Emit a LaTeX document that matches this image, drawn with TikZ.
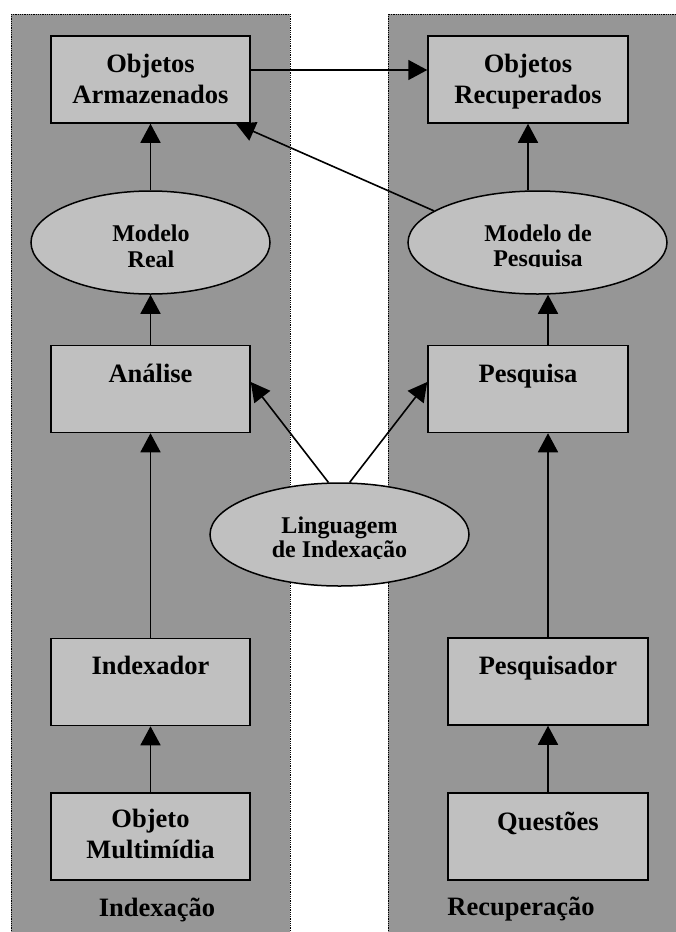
\documentclass[tikz,border=0pt]{standalone}
\usepackage{fontspec}
\setmainfont{Liberation Serif}
\usetikzlibrary{arrows.meta,shapes.geometric}
\definecolor{panelgray}{RGB}{150,150,150}
\definecolor{boxgray}{RGB}{192,192,192}
\tikzset{
  panel/.style={fill=panelgray, draw=black, line width=0.9pt, dash pattern=on 0.9pt off 0.9pt},
  stagebox/.style={draw=black, fill=boxgray, line width=1.5pt, rectangle,
    minimum width=199pt, minimum height=87pt, inner sep=0pt},
  modelshape/.style={draw=black, fill=boxgray, line width=1.5pt, ellipse,
    minimum height=103pt, inner sep=0pt},
  boxtext/.style={anchor=base, inner sep=0pt, font=\fontsize{26.5}{31}\selectfont\bfseries},
  elltext/.style={anchor=base, inner sep=0pt, font=\fontsize{24}{25}\selectfont\bfseries},
  flow/.style={line width=1.6pt, -{Triangle[width=20pt,length=19pt]}},
}
\begin{document}
\begin{tikzpicture}[x=1pt,y=-1pt]
\useasboundingbox (0,0) rectangle (675,932);
\fill[white] (0,0) rectangle (675,932);

% the two columns
\draw[panel] (11,14) rectangle (290,945);
\draw[panel] (388,14) rectangle (690,945);

% stages of indexing
\node[stagebox] (arm) at (150.5,79.5) {};
\node[stagebox] (ana) at (150.5,389) {};
\node[stagebox] (idx) at (150.5,682) {};
\node[stagebox] (obj) at (150.5,836.5) {};
% stages of retrieval
\node[stagebox, minimum width=200pt] (rec) at (528,79.5) {};
\node[stagebox, minimum width=200pt] (pes) at (528,389) {};
\node[stagebox, minimum width=200pt] (psq) at (548,681.5) {};
\node[stagebox, minimum width=200pt] (que) at (548,836.5) {};

% models
\node[modelshape, minimum width=239pt] (mr) at (150.5,242.5) {};
\node[modelshape, minimum width=259pt] (mp) at (537.5,242.5) {};
\node[modelshape, minimum width=259pt] (lin) at (339.5,534.5) {};

% box labels
\node[boxtext] at (150.5,72) {Objetos};
\node[boxtext] at (150.5,103) {Armazenados};
\node[boxtext] at (528,72) {Objetos};
\node[boxtext] at (528,103) {Recuperados};
\node[boxtext] at (150.5,382) {Análise};
\node[boxtext] at (528,382) {Pesquisa};
\node[boxtext] at (150.5,674) {Indexador};
\node[boxtext] at (548,674) {Pesquisador};
\node[boxtext] at (150.5,827) {Objeto};
\node[boxtext] at (150.5,858) {Multimídia};
\node[boxtext] at (548,830) {Questões};

% ellipse labels (second line cut at the text frame)
\node[elltext] at (151,241) {Modelo};
\node[elltext] at (151,267) {Real};
\node[elltext] at (538,241) {Modelo de};
\begin{scope}
  \clip (440,245) rectangle (640,266.5);
  \node[elltext] at (538,266) {Pesquisa};
\end{scope}
\node[elltext] at (339.5,533) {Linguagem};
\begin{scope}
  \clip (240,537) rectangle (440,558);
  \node[elltext] at (339.5,557.5) {de Indexação};
\end{scope}

% column titles
\node[boxtext] at (157,916) {Indexação};
\node[boxtext] at (521,915) {Recuperação};

% connectors
\draw[flow] ([yshift=9.5pt]arm.east) -- ([yshift=9.5pt]rec.west);
\draw[flow] (mr.north) -- (arm.south);
\draw[flow] (ana.north) -- (mr.south);
\draw[flow] (idx.north) -- (ana.south);
\draw[flow] (obj.north) -- (idx.south);
\draw[flow] (rec.south |- mp.north) -- (rec.south);
\draw[flow] (mp.163) -- ([xshift=85.5pt]arm.south);
\draw[flow] ([xshift=20pt]pes.north) -- ([xshift=20pt]pes.north |- mp.south);
\draw[flow] (psq.north) -- (psq.north |- pes.south);
\draw[flow] (que.north) -- (psq.south);
\draw[flow] (lin.102) -- ([yshift=7pt]ana.east);
\draw[flow] (lin.79) -- ([yshift=7pt]pes.west);
\end{tikzpicture}
\end{document}
